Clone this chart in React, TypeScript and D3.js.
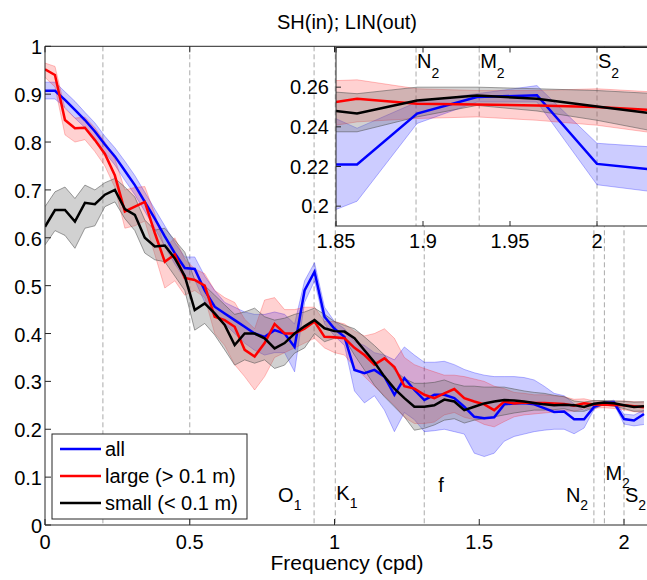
import React from 'react';
import * as d3 from 'd3';

// frequency grid (cpd)
const freq = [0, 0.0345, 0.069, 0.1034, 0.1379, 0.1724, 0.2069, 0.2414, 0.2759, 0.3103, 0.3448, 0.3793, 0.4138, 0.4483, 0.4828, 0.5172, 0.5517, 0.5862, 0.6207, 0.6552, 0.6897, 0.7241, 0.7586, 0.7931, 0.8276, 0.8621, 0.8966, 0.931, 0.9655, 1.0, 1.0345, 1.069, 1.1034, 1.1379, 1.1724, 1.2069, 1.2414, 1.2759, 1.3103, 1.3448, 1.3793, 1.4138, 1.4483, 1.4828, 1.5172, 1.5517, 1.5862, 1.6207, 1.6552, 1.6897, 1.7241, 1.7586, 1.7931, 1.8276, 1.8621, 1.8966, 1.931, 1.9655, 2.0, 2.0345, 2.069];

// "all"
const allVal = [0.907, 0.907, 0.888, 0.867, 0.846, 0.822, 0.795, 0.77, 0.74, 0.71, 0.675, 0.64, 0.603, 0.568, 0.537, 0.535, 0.49, 0.456, 0.442, 0.428, 0.414, 0.4, 0.393, 0.407, 0.4, 0.372, 0.49, 0.529, 0.435, 0.41, 0.393, 0.324, 0.317, 0.324, 0.31, 0.272, 0.307, 0.282, 0.261, 0.272, 0.272, 0.265, 0.247, 0.226, 0.223, 0.225, 0.252, 0.254, 0.255, 0.252, 0.244, 0.236, 0.237, 0.221, 0.221, 0.2467, 0.255, 0.2559, 0.2213, 0.2182, 0.232];
const allHi = [0.925, 0.925, 0.905, 0.885, 0.862, 0.84, 0.812, 0.788, 0.76, 0.73, 0.695, 0.66, 0.625, 0.59, 0.56, 0.56, 0.52, 0.49, 0.465, 0.455, 0.445, 0.44, 0.44, 0.445, 0.44, 0.42, 0.51, 0.548, 0.455, 0.425, 0.41, 0.383, 0.375, 0.36, 0.355, 0.345, 0.372, 0.355, 0.34, 0.34, 0.342, 0.335, 0.325, 0.318, 0.313, 0.31, 0.31, 0.31, 0.308, 0.303, 0.29, 0.275, 0.27, 0.253, 0.2393, 0.2525, 0.2567, 0.2608, 0.2317, 0.2297, 0.24];
const allLo = [0.89, 0.89, 0.872, 0.85, 0.83, 0.805, 0.778, 0.752, 0.72, 0.69, 0.655, 0.62, 0.582, 0.545, 0.515, 0.512, 0.465, 0.435, 0.42, 0.4, 0.38, 0.365, 0.355, 0.36, 0.36, 0.32, 0.465, 0.51, 0.42, 0.395, 0.375, 0.28, 0.255, 0.27, 0.24, 0.195, 0.235, 0.22, 0.195, 0.197, 0.2, 0.195, 0.19, 0.15, 0.143, 0.15, 0.175, 0.185, 0.19, 0.195, 0.198, 0.2, 0.2, 0.1906, 0.2025, 0.2417, 0.2525, 0.2525, 0.2108, 0.207, 0.21];

// "large (> 0.1 m)"
const largeVal = [0.952, 0.94, 0.846, 0.829, 0.83, 0.804, 0.775, 0.73, 0.655, 0.665, 0.675, 0.61, 0.55, 0.565, 0.516, 0.512, 0.5, 0.435, 0.428, 0.414, 0.366, 0.352, 0.38, 0.42, 0.4, 0.4, 0.41, 0.425, 0.393, 0.392, 0.39, 0.37, 0.355, 0.335, 0.348, 0.33, 0.29, 0.285, 0.272, 0.265, 0.275, 0.284, 0.265, 0.258, 0.252, 0.24, 0.258, 0.254, 0.256, 0.255, 0.255, 0.254, 0.253, 0.2494, 0.2542, 0.2517, 0.2513, 0.2508, 0.25, 0.2483, 0.246];
const largeHi = [0.965, 0.958, 0.87, 0.85, 0.852, 0.83, 0.8, 0.765, 0.7, 0.705, 0.707, 0.65, 0.578, 0.6, 0.555, 0.535, 0.525, 0.49, 0.475, 0.465, 0.43, 0.41, 0.47, 0.475, 0.45, 0.45, 0.455, 0.455, 0.425, 0.425, 0.42, 0.405, 0.395, 0.4, 0.41, 0.39, 0.35, 0.335, 0.327, 0.32, 0.313, 0.313, 0.31, 0.305, 0.3, 0.29, 0.285, 0.277, 0.275, 0.272, 0.272, 0.27, 0.268, 0.2626, 0.2637, 0.2592, 0.2583, 0.2583, 0.2592, 0.2575, 0.257];
const largeLo = [0.935, 0.915, 0.815, 0.8, 0.805, 0.78, 0.75, 0.705, 0.62, 0.625, 0.635, 0.565, 0.495, 0.51, 0.48, 0.49, 0.475, 0.4, 0.375, 0.335, 0.31, 0.282, 0.31, 0.35, 0.36, 0.37, 0.38, 0.39, 0.37, 0.36, 0.355, 0.33, 0.31, 0.29, 0.27, 0.25, 0.225, 0.212, 0.212, 0.215, 0.23, 0.235, 0.225, 0.22, 0.21, 0.205, 0.216, 0.226, 0.23, 0.232, 0.234, 0.236, 0.238, 0.2377, 0.2425, 0.2442, 0.245, 0.2433, 0.2408, 0.2367, 0.235];

// "small (< 0.1 m)"
const smallVal = [0.623, 0.658, 0.658, 0.634, 0.673, 0.67, 0.69, 0.7, 0.66, 0.648, 0.6, 0.582, 0.584, 0.557, 0.52, 0.449, 0.463, 0.442, 0.418, 0.376, 0.4, 0.4, 0.39, 0.369, 0.38, 0.4, 0.415, 0.428, 0.411, 0.405, 0.404, 0.39, 0.365, 0.34, 0.31, 0.285, 0.265, 0.247, 0.247, 0.25, 0.262, 0.258, 0.24, 0.247, 0.254, 0.258, 0.261, 0.26, 0.258, 0.255, 0.252, 0.25, 0.251, 0.2504, 0.2467, 0.2533, 0.2558, 0.2542, 0.2503, 0.2465, 0.248];
const smallHi = [0.665, 0.696, 0.706, 0.682, 0.71, 0.7, 0.715, 0.724, 0.706, 0.685, 0.637, 0.616, 0.62, 0.595, 0.57, 0.512, 0.5, 0.48, 0.46, 0.44, 0.445, 0.453, 0.435, 0.428, 0.432, 0.44, 0.445, 0.453, 0.44, 0.425, 0.417, 0.41, 0.393, 0.375, 0.355, 0.324, 0.306, 0.296, 0.296, 0.298, 0.303, 0.295, 0.29, 0.29, 0.288, 0.288, 0.288, 0.284, 0.28, 0.277, 0.275, 0.271, 0.268, 0.259, 0.2567, 0.26, 0.26, 0.2592, 0.2583, 0.2567, 0.2575];
const smallLo = [0.585, 0.615, 0.605, 0.578, 0.62, 0.625, 0.665, 0.675, 0.64, 0.615, 0.568, 0.554, 0.55, 0.52, 0.49, 0.407, 0.421, 0.397, 0.366, 0.334, 0.345, 0.338, 0.345, 0.327, 0.334, 0.359, 0.37, 0.4, 0.383, 0.39, 0.39, 0.355, 0.324, 0.292, 0.268, 0.247, 0.226, 0.198, 0.202, 0.209, 0.219, 0.222, 0.213, 0.219, 0.222, 0.226, 0.23, 0.234, 0.237, 0.24, 0.24, 0.241, 0.243, 0.2375, 0.2375, 0.245, 0.2508, 0.248, 0.2433, 0.2375, 0.238];

const seriesNames = ['all', 'large (> 0.1 m)', 'small (< 0.1 m)'];

const mainXTicks = [0, 0.5, 1, 1.5, 2];
const mainXLabels = ['0', '0.5', '1', '1.5', '2'];
const mainYTicks = [0, 0.1, 0.2, 0.3, 0.4, 0.5, 0.6, 0.7, 0.8, 0.9, 1];
const mainYLabels = ['0', '0.1', '0.2', '0.3', '0.4', '0.5', '0.6', '0.7', '0.8', '0.9', '1'];
const insetXTicks = [1.85, 1.9, 1.95, 2];
const insetXLabels = ['1.85', '1.9', '1.95', '2'];
const insetYTicks = [0.2, 0.22, 0.24, 0.26];
const insetYLabels = ['0.2', '0.22', '0.24', '0.26'];

// reference frequencies (dashed lines)
const refLines = [0.2, 0.5, 0.9295, 1.0027, 1.31, 1.896, 1.9323, 2.0];
// constituent labels: main symbol, subscript, frequency
const constNames = ['O', 'K', 'f', 'N', 'M', 'S'];
const constSubs = ['1', '1', '', '2', '2', '2'];
const constFreq = [0.9295, 1.0027, 1.31, 1.896, 1.9323, 2.0];
const insetConstNames = ['N', 'M', 'S'];
const insetConstFreq = [1.896, 1.9323, 2.0];

const FONT = 'Liberation Sans, Arial, Helvetica, sans-serif';
const AX = '#262626';

const styles = [
  { line: '#0000ff', fill: '#0000ff', fillOp: 0.2, edge: '#0000ff', edgeOp: 0.35 },
  { line: '#ff0000', fill: '#ff0000', fillOp: 0.18, edge: '#ff0000', edgeOp: 0.3 },
  { line: '#000000', fill: '#7a7a7a', fillOp: 0.35, edge: '#555555', edgeOp: 0.7 },
];

const data = [
  { val: allVal, lo: allLo, hi: allHi },
  { val: largeVal, lo: largeLo, hi: largeHi },
  { val: smallVal, lo: smallLo, hi: smallHi },
];

function Plot({ x, y, clip }: { x: any; y: any; clip: string }) {
  const idx = d3.range(freq.length);
  const area = (lo: number[], hi: number[]) =>
    d3.area<number>().x((i) => x(freq[i])).y0((i) => y(lo[i])).y1((i) => y(hi[i]))(idx) || '';
  const line = (v: number[]) => d3.line<number>().x((i) => x(freq[i])).y((i) => y(v[i]))(idx) || '';
  return (
    <g clipPath={`url(#${clip})`}>
      {data.map((s, j) => (
        <g key={'b' + j}>
          <path d={area(s.lo, s.hi)} fill={styles[j].fill} fillOpacity={styles[j].fillOp} stroke="none" />
          <path d={line(s.lo)} fill="none" stroke={styles[j].edge} strokeOpacity={styles[j].edgeOp} strokeWidth={0.8} />
          <path d={line(s.hi)} fill="none" stroke={styles[j].edge} strokeOpacity={styles[j].edgeOp} strokeWidth={0.8} />
        </g>
      ))}
      {data.map((s, j) => (
        <path key={'l' + j} d={line(s.val)} fill="none" stroke={styles[j].line} strokeWidth={2.5} strokeLinejoin="miter" />
      ))}
    </g>
  );
}

export default function App() {
  const W = 647, H = 580;
  const x = d3.scaleLinear().domain([0, 2.2]).range([45, 45 + 289.5 * 2.2]);
  const y = d3.scaleLinear().domain([0, 1]).range([525, 46.3]);
  const xi = d3.scaleLinear().domain([1.85, 2.05]).range([336, 336 + 348]);
  const yi = d3.scaleLinear().domain([0.19, 0.28]).range([226, 47.5]);

  const [mx0, mx1] = [45, x(2.2)];
  const [my0, my1] = [y(1), y(0)];
  const [ix0, ix1] = [xi(1.85), xi(2.05)];
  const [iy0, iy1] = [yi(0.28), yi(0.19)];

  // main label layout offsets (px) relative to their constituent line
  const labelDX = [-36, 1, 14, -28, 1, 1];
  const labelY = [502, 500, 492, 502, 480, 502];

  return (
    <svg width={W} height={H} style={{ position: 'absolute', left: 0, top: 0, background: '#fff' }} fontFamily={FONT}>
      <defs>
        <clipPath id="mainClip"><rect x={mx0} y={my0} width={mx1 - mx0} height={my1 - my0} /></clipPath>
        <clipPath id="insetClip"><rect x={ix0} y={iy0} width={ix1 - ix0} height={iy1 - iy0} /></clipPath>
      </defs>
      <rect x={0} y={0} width={W} height={H} fill="#fff" />
      {/* title */}
      <text x={347} y={29} fontSize={20} textAnchor="middle" fill="#000">SH(in); LIN(out)</text>

      {/* dashed reference lines */}
      {refLines.map((f, i) => (
        <line key={'r' + i} x1={x(f)} x2={x(f)} y1={my0} y2={my1} stroke="#a0a0a0" strokeWidth={0.9} strokeDasharray="5,3" />
      ))}

      <Plot x={x} y={y} clip="mainClip" />

      {/* main axes */}
      <line x1={mx0} x2={mx1} y1={my1} y2={my1} stroke={AX} strokeWidth={1} />
      <line x1={mx0} x2={mx1} y1={my0} y2={my0} stroke={AX} strokeWidth={1} />
      <line x1={mx0} x2={mx0} y1={my0} y2={my1} stroke={AX} strokeWidth={1} />
      {mainYTicks.map((t, i) => (
        <g key={'yt' + i}>
          <line x1={mx0} x2={mx0 + 6} y1={y(t)} y2={y(t)} stroke={AX} />
          <text x={42} y={y(t) + 8} fontSize={20} textAnchor="end" fill="#000">{mainYLabels[i]}</text>
        </g>
      ))}
      {mainXTicks.map((t, i) => (
        <g key={'xt' + i}>
          <line x1={x(t)} x2={x(t)} y1={my1} y2={my1 - 6} stroke={AX} />
          <line x1={x(t)} x2={x(t)} y1={my0} y2={my0 + 6} stroke={AX} />
          <text x={x(t)} y={549} fontSize={20} textAnchor="middle" fill="#000">{mainXLabels[i]}</text>
        </g>
      ))}
      <text x={347} y={570} fontSize={21} textAnchor="middle" fill="#000">Frequency (cpd)</text>

      {/* constituent labels */}
      {constNames.map((n, i) => (
        <text key={'c' + i} x={x(constFreq[i]) + labelDX[i]} y={labelY[i]} fontSize={20} fill="#000">
          {n}
          {constSubs[i] && <tspan dy={8} fontSize={14}>{constSubs[i]}</tspan>}
        </text>
      ))}

      {/* legend */}
      <g>
        <rect x={52} y={434} width={195} height={85} fill="#fff" stroke={AX} strokeWidth={1} />
        {seriesNames.map((n, i) => (
          <g key={'lg' + i}>
            <line x1={60} x2={101} y1={449 + i * 27} y2={449 + i * 27} stroke={styles[i].line} strokeWidth={2.5} />
            <text x={105} y={456 + i * 27} fontSize={20} fill="#000">{n}</text>
          </g>
        ))}
      </g>

      {/* inset */}
      <rect x={ix0} y={iy0} width={ix1 - ix0} height={iy1 - iy0} fill="#fff" stroke="none" />
      {insetConstFreq.map((f, i) => (
        <line key={'ir' + i} x1={xi(f)} x2={xi(f)} y1={iy0} y2={iy1} stroke="#a0a0a0" strokeWidth={0.9} strokeDasharray="5,3" />
      ))}
      <Plot x={xi} y={yi} clip="insetClip" />
      {insetConstNames.map((n, i) => (
        <text key={'ic' + i} x={xi(insetConstFreq[i]) + 1} y={68} fontSize={20} fill="#000">
          {n}<tspan dy={10} fontSize={14}>2</tspan>
        </text>
      ))}
      <rect x={ix0} y={iy0} width={ix1 - ix0} height={iy1 - iy0} fill="none" stroke={AX} strokeWidth={1} />
      {insetYTicks.map((t, i) => (
        <g key={'iyt' + i}>
          <line x1={ix0} x2={ix0 + 5} y1={yi(t)} y2={yi(t)} stroke={AX} />
          <text x={329} y={yi(t) + 7} fontSize={20} textAnchor="end" fill="#000">{insetYLabels[i]}</text>
        </g>
      ))}
      {insetXTicks.map((t, i) => (
        <g key={'ixt' + i}>
          <line x1={xi(t)} x2={xi(t)} y1={iy1} y2={iy1 - 5} stroke={AX} />
          <line x1={xi(t)} x2={xi(t)} y1={iy0} y2={iy0 + 5} stroke={AX} />
          <text x={xi(t)} y={248} fontSize={20} textAnchor="middle" fill="#000">{insetXLabels[i]}</text>
        </g>
      ))}
    </svg>
  );
}
